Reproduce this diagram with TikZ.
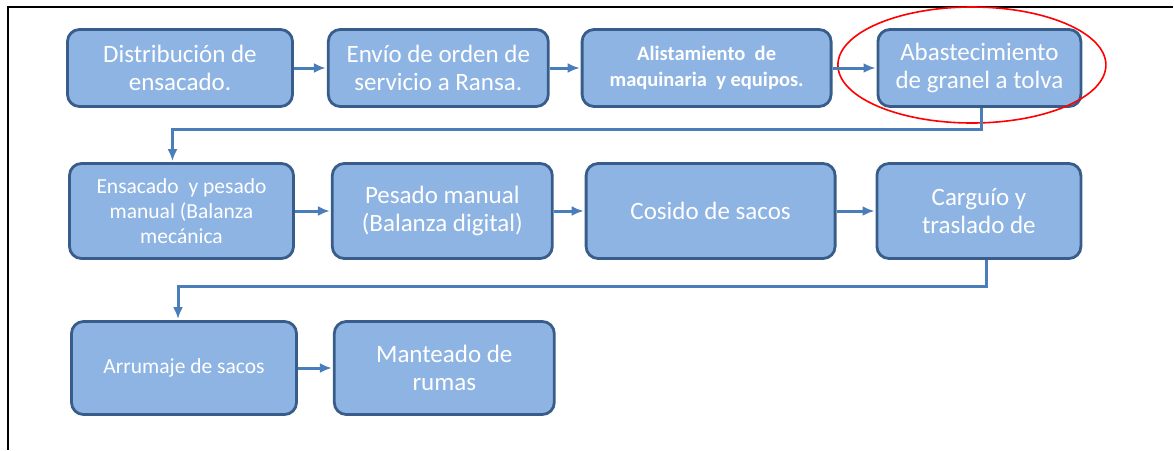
\documentclass[tikz,border=0pt]{standalone}
\usepackage{fontspec}
\setmainfont{Carlito}
\usetikzlibrary{positioning, arrows.meta, calc}

\definecolor{cajafondo}{RGB}{142,180,227}
\definecolor{cajaborde}{RGB}{56,93,138}
\definecolor{flechaazul}{RGB}{74,126,187}

\begin{document}
\begin{tikzpicture}[shorten >=1pt, node distance=33pt,
  paso/.style={draw=cajaborde, fill=cajafondo, line width=2.8pt, rounded corners=12pt,
    text=white, align=center, inner sep=2pt, font=\fontsize{25}{28}\selectfont},
  fila1/.style={minimum height=77pt},
  fila2/.style={minimum height=95pt},
  fila3/.style={minimum height=93pt},
  flecha/.style={color=flechaazul, line width=3pt, -{Latex[length=12pt,width=10pt]}}]
  \useasboundingbox (0,0) rectangle (1174pt,-450pt);
  \draw[line width=2.2pt] (8pt,-450pt) -- (8pt,-7pt) -- (1174pt,-7pt);

  % fila 1
  \node[paso, fila1, minimum width=225pt] (dist) at (180pt,-68pt) {Distribución de\\ensacado.};
  \node[paso, fila1, minimum width=220pt] (envio) [right=33pt of dist] {Envío de orden de\\servicio a Ransa.};
  \node[paso, fila1, minimum width=249pt, font=\bfseries\fontsize{20.5}{26}\selectfont] (alist) [right=31pt of envio] {Alistamiento\ \ de\\maquinaria\ \ y equipos.};
  \node[paso, fila1, minimum width=203pt] (abast) [right=44pt of alist] {Abastecimiento\\de granel a tolva};

  % fila 2
  \node[paso, fila2, minimum width=224pt, font=\fontsize{21.5}{25}\selectfont] (ensac) at (181.5pt,-211pt) {Ensacado\ \ y pesado\\manual (Balanza\\mecánica};
  \node[paso, fila2, minimum width=220pt] (pesad) [right=36pt of ensac] {Pesado manual\\(Balanza digital)};
  \node[paso, fila2, minimum width=249pt] (cosid) [right=31pt of pesad] {Cosido de sacos};
  \node[paso, fila2, minimum width=204pt] (cargu) [right=39pt of cosid] {Carguío y\\traslado de};

  % fila 3
  \node[paso, fila3, minimum width=225pt, font=\fontsize{21.5}{25}\selectfont] (arrum) at (184pt,-368pt) {Arrumaje de sacos};
  \node[paso, fila3, minimum width=220pt] (mante) [right=35pt of arrum] {Manteado de\\rumas};

  \draw[red, line width=1.6pt] ($(abast.center)+(-7.5pt,3pt)$) ellipse [x radius=134pt, y radius=58pt];

  \path[flecha]
  (dist) edge (envio)
  (envio) edge (alist)
  (alist) edge (abast)
  (ensac) edge (pesad)
  (pesad) edge (cosid)
  (cosid) edge (cargu)
  (arrum) edge (mante);
  \draw[flecha] ([xshift=2pt]abast.south) -- ++(0,-22pt) -| ([xshift=-9pt]ensac.north);
  \draw[flecha] ([xshift=8pt]cargu.south) -- ++(0,-27pt) -| ([xshift=-6pt]arrum.north);
\end{tikzpicture}
\end{document}
